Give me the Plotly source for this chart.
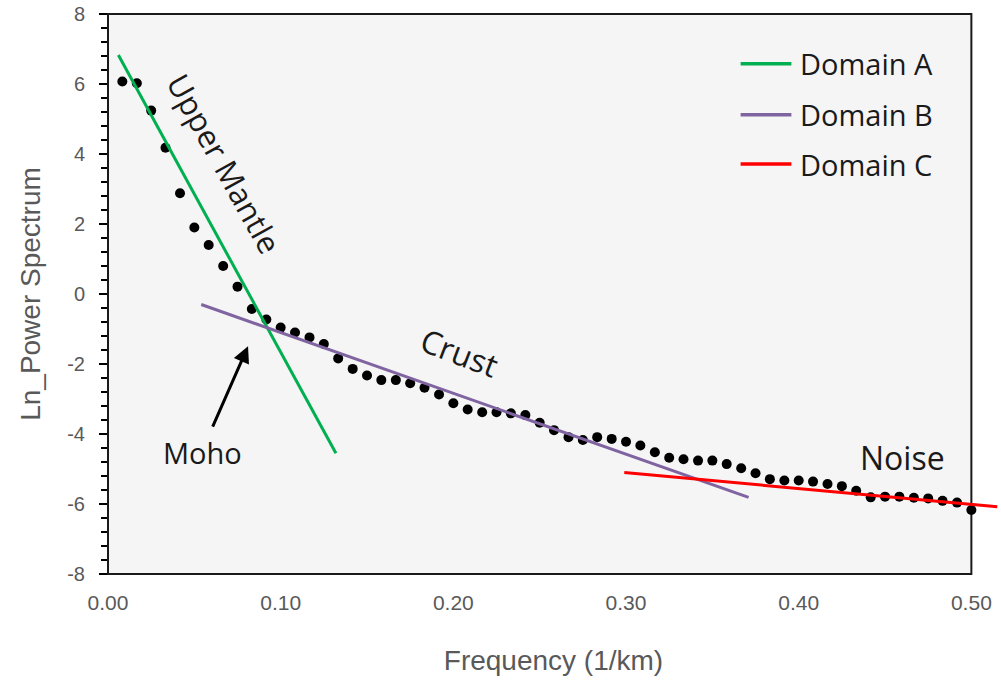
import plotly.graph_objects as go

# Power spectrum samples (frequency in 1/km, natural log of power)
freq = [0.0083, 0.0167, 0.0250, 0.0333, 0.0417, 0.0500, 0.0583, 0.0667, 0.0750, 0.0833,
        0.0917, 0.1000, 0.1083, 0.1167, 0.1250, 0.1333, 0.1417, 0.1500, 0.1583, 0.1667,
        0.1750, 0.1833, 0.1917, 0.2000, 0.2083, 0.2167, 0.2250, 0.2333, 0.2417, 0.2500,
        0.2583, 0.2667, 0.2750, 0.2833, 0.2917, 0.3000, 0.3083, 0.3167, 0.3250, 0.3333,
        0.3417, 0.3500, 0.3583, 0.3667, 0.3750, 0.3833, 0.3917, 0.4000, 0.4083, 0.4167,
        0.4250, 0.4333, 0.4417, 0.4500, 0.4583, 0.4667, 0.4750, 0.4833, 0.4917, 0.5000]
ln_power = [6.07, 6.02, 5.24, 4.18, 2.88, 1.90, 1.40, 0.80, 0.21, -0.43,
            -0.73, -0.96, -1.10, -1.24, -1.43, -1.84, -2.14, -2.33, -2.46, -2.46,
            -2.55, -2.68, -2.87, -3.12, -3.30, -3.38, -3.38, -3.41, -3.46, -3.68,
            -3.89, -4.09, -4.17, -4.09, -4.14, -4.22, -4.33, -4.52, -4.68, -4.72,
            -4.76, -4.76, -4.86, -4.98, -5.12, -5.29, -5.33, -5.33, -5.36, -5.43,
            -5.49, -5.62, -5.81, -5.79, -5.79, -5.82, -5.84, -5.91, -5.96, -6.17]

# Linear fits for the three spectral domains (end points)
domain_a_x = [0.006, 0.132]
domain_a_y = [6.83, -4.55]
domain_b_x = [0.054, 0.371]
domain_b_y = [-0.30, -5.81]
domain_c_x = [0.299, 0.515]
domain_c_y = [-5.10, -6.08]

domain_names = ["Domain A", "Domain B", "Domain C"]
domain_colors = ["#00B050", "#8064A2", "#FF0000"]

x_ticks = [0.0, 0.1, 0.2, 0.3, 0.4, 0.5]
x_tick_text = ["0.00", "0.10", "0.20", "0.30", "0.40", "0.50"]
y_ticks = [-8, -6, -4, -2, 0, 2, 4, 6, 8]
y_tick_text = ["-8", "-6", "-4", "-2", "0", "2", "4", "6", "8"]

X_MAX = 0.516
AXIS_FONT = "Liberation Sans, Arial, sans-serif"
TEXT_FONT = "Open Sans, Noto Sans, sans-serif"
TEXT_COLOR = "#1a1a1a"

fig = go.Figure()

fig.add_trace(go.Scatter(
    x=freq, y=ln_power, mode="markers",
    marker=dict(color="black", size=10),
    showlegend=False, cliponaxis=False,
))

for xs, ys, name, color in zip(
        [domain_a_x, domain_b_x, domain_c_x],
        [domain_a_y, domain_b_y, domain_c_y],
        domain_names, domain_colors):
    fig.add_trace(go.Scatter(
        x=xs, y=ys, mode="lines", name=name,
        line=dict(color=color, width=3),
        showlegend=False,
    ))

# Framed plotting box from 0 to 0.5 on the frequency axis
box_right = 0.5 / X_MAX
fig.add_shape(type="rect", xref="paper", yref="paper",
              x0=0, x1=box_right, y0=0, y1=1,
              fillcolor="#F5F5F5", line=dict(color="#1a1a1a", width=2),
              layer="below")

# Legend drawn as short line samples with labels
legend_rows = [0.911, 0.820, 0.732]
for row, name, color in zip(legend_rows, domain_names, domain_colors):
    fig.add_shape(type="line", xref="paper", yref="paper",
                  x0=0.710, x1=0.767, y0=row, y1=row,
                  line=dict(color=color, width=3.5))
    fig.add_annotation(xref="paper", yref="paper", x=0.774, y=row,
                       text=name, showarrow=False, xanchor="left", yanchor="middle",
                       font=dict(family=TEXT_FONT, size=29, color=TEXT_COLOR))

# Text labels on the plot
fig.add_annotation(x=0.0672, y=3.74, text="Upper Mantle", textangle=61,
                   showarrow=False, font=dict(family=TEXT_FONT, size=31, color=TEXT_COLOR))
fig.add_annotation(x=0.204, y=-1.66, text="Crust", textangle=21,
                   showarrow=False, font=dict(family=TEXT_FONT, size=32, color=TEXT_COLOR))
fig.add_annotation(x=0.460, y=-4.66, text="Noise",
                   showarrow=False, font=dict(family=TEXT_FONT, size=32, color=TEXT_COLOR))
fig.add_annotation(x=0.0545, y=-4.54, text="Moho",
                   showarrow=False, font=dict(family=TEXT_FONT, size=29, color=TEXT_COLOR))
fig.add_annotation(x=0.0811, y=-1.49, text="", showarrow=True,
                   ax=-36, ay=82, arrowhead=2, arrowsize=1.1, arrowwidth=3,
                   arrowcolor="black")

fig.update_layout(
    width=1001, height=681,
    margin=dict(l=108, r=2, t=14, b=107),
    paper_bgcolor="white", plot_bgcolor="white",
    showlegend=False,
    xaxis=dict(
        range=[0, X_MAX], tickvals=x_ticks, ticktext=x_tick_text,
        showgrid=False, zeroline=False, showline=False, ticks="",
        tickfont=dict(family=AXIS_FONT, size=21, color="#595959"),
        ticklabelstandoff=14,
        title=dict(text="Frequency (1/km)", standoff=37,
                   font=dict(family=AXIS_FONT, size=28, color="#595959")),
    ),
    yaxis=dict(
        range=[-8, 8], tickvals=y_ticks, ticktext=y_tick_text,
        showgrid=False, zeroline=False, showline=False,
        ticks="outside", ticklen=8, tickwidth=1.5, tickcolor="black",
        minor=dict(dtick=0.4, ticks="outside", ticklen=6, tickwidth=1.5, tickcolor="black"),
        tickfont=dict(family=AXIS_FONT, size=20, color="#595959"),
        ticklabelstandoff=10,
        title=dict(text="Ln_Power Spectrum", standoff=18,
                   font=dict(family=AXIS_FONT, size=28, color="#595959")),
    ),
)

fig.write_html("out.html")
